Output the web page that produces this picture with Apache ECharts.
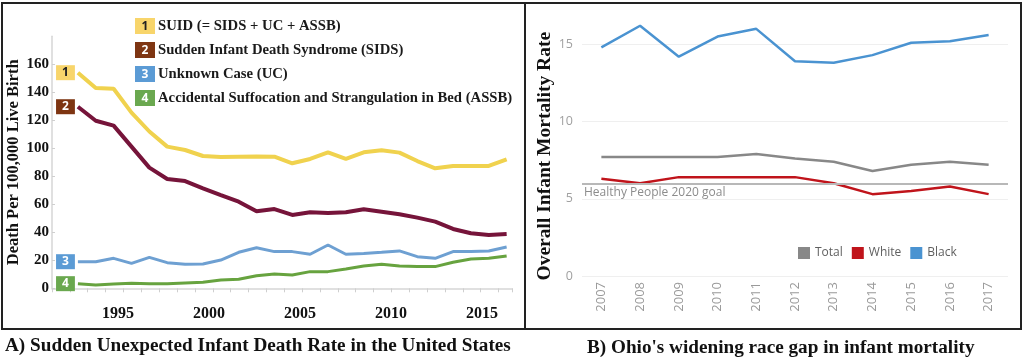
<!DOCTYPE html>
<html>
<head>
<meta charset="utf-8">
<script src="https://cdn.jsdelivr.net/npm/echarts@6/dist/echarts.min.js"></script>
<style>
html,body{margin:0;padding:0;background:#fff;}
#chart{width:1024px;height:361px;}
</style>
</head>
<body>
<div id="chart"></div>
<script>
// ---------- Panel A data ----------
const suidYears = [1992,1993,1994,1995,1996,1997,1998,1999,2000,2001,2002,2003,2004,2005,2006,2007,2008,2009,2010,2011,2012,2013,2014,2015,2016];
const suid = [154,143,142.5,125.5,112,101.2,98.8,94.5,93.8,94,94.2,94,89.3,92.4,97.1,92.4,97.1,98.6,96.9,90.9,85.7,87.4,87.4,87.4,92.1];
const sids = [129.7,119.7,116.2,101.2,86.2,78.1,76.6,71.4,66.6,61.9,55.0,56.6,52.4,54.3,53.8,54.3,56.4,54.7,52.9,50.5,47.6,42.4,39.3,38.1,38.8];
const uc = [19.0,19.0,21.4,17.8,22.1,18.3,17.1,17.4,20.2,25.7,29.0,26.2,26.2,24.3,30.9,24.3,24.8,25.7,26.7,22.6,21.4,26.2,26.2,26.7,29.5];
const assb = [3.3,2.4,3.1,3.6,3.3,3.3,3.8,4.3,5.9,6.4,9.0,10.2,9.5,11.9,11.9,13.8,15.9,17.1,15.9,15.5,15.5,18.6,20.9,21.4,23.1];
const suidNames = ['SUID (= SIDS + UC + ASSB)','Sudden Infant Death Syndrome (SIDS)','Unknown Case (UC)','Accidental Suffocation and Strangulation in Bed (ASSB)'];

// ---------- Panel B data ----------
const ohioYears = ['2007','2008','2009','2010','2011','2012','2013','2014','2015','2016','2017'];
const totalRate = [7.7,7.7,7.7,7.7,7.9,7.6,7.4,6.8,7.2,7.4,7.2];
const whiteRate = [6.3,6.0,6.4,6.4,6.4,6.4,6.0,5.3,5.5,5.8,5.3];
const blackRate = [14.8,16.2,14.2,15.5,16.0,13.9,13.8,14.3,15.1,15.2,15.6];
const goalValue = 6;

const serif = '"Liberation Serif","Times New Roman",serif';
const sans = '"Open Sans","Noto Sans",sans-serif';

const lineColors = ['#f0d24e','#76143a','#6ea0d2','#67a33f'];
const boxColors = ['#f8d56b','#7e3512','#5b9bd5','#6aa84f'];
const boxText = ['#222','#fff','#fff','#fff'];
const lineWidths = [4,4,3,3];

function buildSeries(values, idx){
  return values.map((v,i)=>{
    const item = {value:[suidYears[i], v]};
    if(i===0){
      item.label = {
        show:true, position:'left', distance:3,
        formatter:String(idx+1),
        backgroundColor:boxColors[idx], color:boxText[idx],
        padding:[2,6,1,6], fontSize:12, fontWeight:'bold', fontFamily:sans
      };
    }
    return item;
  });
}

const leftSeries = [suid,sids,uc,assb].map((vals,idx)=>({
  name:suidNames[idx], type:'line', xAxisIndex:0, yAxisIndex:0,
  data:buildSeries(vals,idx), symbol:'circle', symbolSize:0, showSymbol:true, showAllSymbol:true,
  smooth:false,
  label:{show:false},
  lineStyle:{color:lineColors[idx], width:lineWidths[idx]},
  itemStyle:{color:lineColors[idx]},
  z: 5-idx
}));

const rich = {};
boxColors.forEach((c,i)=>{
  rich['n'+(i+1)] = {backgroundColor:c, color:boxText[i], width:20, height:15, align:'center',
    fontSize:12, fontWeight:'bold', fontFamily:sans, padding:[1,0,0,0]};
});
rich.t = {fontFamily:serif, fontWeight:'bold', fontSize:14.7, color:'#1a1a1a', padding:[0,0,0,3]};

const option = {
  animation:false,
  backgroundColor:'#fff',
  grid:[
    {left:52, right:512, top:36.3, bottom:72.7},
    {left:582, right:16, top:13.4, bottom:85}
  ],
  legend:[
    {
      data:suidNames, orient:'vertical', left:124, top:12, icon:'none', itemWidth:1, itemHeight:14,
      itemGap:6, selectedMode:false,
      formatter:(name)=>{const i=suidNames.indexOf(name)+1; return '{n'+i+'|'+i+'}{t|'+name+'}';},
      textStyle:{rich:rich, lineHeight:18}
    },
    {
      data:['Total','White','Black'], left:793, top:242, icon:'rect', itemWidth:12, itemHeight:12,
      itemGap:9, selectedMode:false,
      textStyle:{color:'#5f5f5f', fontSize:12, fontFamily:sans}
    }
  ],
  xAxis:[
    {
      gridIndex:0, type:'value', position:'bottom', min:1990.55, max:2016.3, interval:1,
      axisLine:{show:true, lineStyle:{color:'#d6d6d6', width:1.5}},
      axisTick:{show:true, length:4, lineStyle:{color:'#cfcfcf'}},
      axisLabel:{show:false}, splitLine:{show:false}
    },
    {
      gridIndex:0, type:'value', position:'bottom', min:1991.37, max:2016.65, splitNumber:5,
      axisLine:{show:false}, axisTick:{show:false}, splitLine:{show:false},
      axisLabel:{
        show:true, margin:18, color:'#111', fontFamily:serif, fontWeight:'bold', fontSize:16,
        formatter:(v)=>{const r=Math.round(v); return (Math.abs(v-r)<1e-6 && r%5===0)? String(r):'';}
      }
    },
    {
      gridIndex:1, type:'category', data:ohioYears, boundaryGap:true,
      axisLine:{show:false}, axisTick:{show:false},
      axisLabel:{rotate:90, margin:6, color:'#9a9a9a', fontSize:13, fontFamily:sans},
      splitLine:{show:false}
    }
  ],
  yAxis:[
    {
      gridIndex:0, type:'value', min:0, max:180, interval:20,
      name:'Death Per 100,000 Live Birth', nameLocation:'middle', nameGap:29,
      nameTextStyle:{fontFamily:serif, fontWeight:'bold', fontSize:16.5, color:'#111'},
      axisLine:{show:true, lineStyle:{color:'#d6d6d6', width:1.5}},
      axisTick:{show:true, inside:true, length:3, lineStyle:{color:'#cfcfcf'}},
      axisLabel:{margin:3, color:'#111', fontFamily:serif, fontWeight:'bold', fontSize:15, showMaxLabel:false},
      splitLine:{show:false}
    },
    {
      gridIndex:1, type:'value', min:0, max:17, interval:5,
      name:'Overall Infant Mortality Rate', nameLocation:'middle', nameGap:25,
      nameTextStyle:{fontFamily:serif, fontWeight:'bold', fontSize:19.5, color:'#111', padding:[0,23,0,0]},
      axisLine:{show:false}, axisTick:{show:false},
      axisLabel:{margin:9, color:'#a0a0a0', fontSize:12.5, fontFamily:sans, showMaxLabel:false},
      splitLine:{show:true, showMaxLine:false, lineStyle:{color:'#efefef', width:1}}
    }
  ],
  series: leftSeries.concat([
    {
      name:'Total', type:'line', xAxisIndex:2, yAxisIndex:1, data:totalRate, symbol:'none',
      lineStyle:{color:'#888888', width:2.5}, itemStyle:{color:'#888888'},
      markLine:{
        silent:true, symbol:'none',
        lineStyle:{color:'#b8b8b8', width:2, type:'solid'},
        label:{show:true, position:'insideStartBottom', formatter:'Healthy People 2020 goal',
          color:'#8c8c8c', fontSize:12, fontFamily:sans, distance:[2,3]},
        data:[{yAxis:goalValue}]
      }
    },
    {
      name:'White', type:'line', xAxisIndex:2, yAxisIndex:1, data:whiteRate, symbol:'none',
      lineStyle:{color:'#c0141b', width:2.5}, itemStyle:{color:'#c0141b'}
    },
    {
      name:'Black', type:'line', xAxisIndex:2, yAxisIndex:1, data:blackRate, symbol:'none',
      lineStyle:{color:'#4a93d1', width:2.5}, itemStyle:{color:'#4a93d1'}
    }
  ]),
  graphic:[
    {type:'rect', shape:{x:2, y:3, width:1019, height:326}, style:{fill:'none', stroke:'#222', lineWidth:2}, z:100},
    {type:'line', shape:{x1:525, y1:3, x2:525, y2:329}, style:{stroke:'#222', lineWidth:2}, z:100},
    {type:'text', left:5, top:337, style:{text:'A) Sudden Unexpected Infant Death Rate in the United States',
      font:'bold 19.2px '+serif, fill:'#111'}},
    {type:'text', left:587, top:339, style:{text:"B) Ohio's widening race gap in infant mortality",
      font:'bold 19.2px '+serif, fill:'#111'}}
  ]
};

const chart = echarts.init(document.getElementById('chart'), null, {renderer:'canvas'});
chart.setOption(option);
</script>
</body>
</html>
